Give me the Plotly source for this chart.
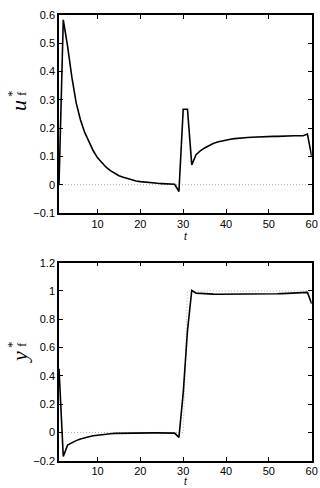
import plotly.graph_objects as go

t = list(range(1, 61))

u_f = [0.0, 0.583, 0.49, 0.38, 0.29, 0.23, 0.185, 0.15, 0.12, 0.095,
       0.077, 0.062, 0.05, 0.04, 0.032, 0.026, 0.021, 0.017, 0.013, 0.011,
       0.009, 0.007, 0.006, 0.005, 0.004, 0.003, 0.002, 0.0015, -0.024, 0.267,
       0.267, 0.07, 0.106, 0.12, 0.13, 0.139, 0.146, 0.151, 0.155, 0.159,
       0.161, 0.163, 0.165, 0.166, 0.167, 0.168, 0.169, 0.17, 0.17, 0.171,
       0.171, 0.171, 0.172, 0.172, 0.172, 0.173, 0.173, 0.173, 0.179, 0.1]

y_f = [0.45, -0.17, -0.09, -0.072, -0.058, -0.047, -0.037, -0.03, -0.024, -0.019,
       -0.015, -0.012, -0.009, -0.007, -0.006, -0.005, -0.004, -0.004, -0.003, -0.003,
       -0.003, -0.003, -0.003, -0.003, -0.003, -0.003, -0.004, -0.005, -0.035, 0.28,
       0.72, 1.005, 0.985, 0.982, 0.98, 0.979, 0.978, 0.977, 0.977, 0.976,
       0.976, 0.975, 0.975, 0.975, 0.975, 0.976, 0.976, 0.977, 0.977, 0.978,
       0.979, 0.98, 0.981, 0.982, 0.983, 0.984, 0.985, 0.986, 0.99, 0.91]

u_ref = [0.0] * 60
y_ref = [0.0] * 30 + [1.0] * 30

x_ticks = [10, 20, 30, 40, 50, 60]
u_ticks = [-0.1, 0, 0.1, 0.2, 0.3, 0.4, 0.5, 0.6]
u_labels = ["\u22120.1", "0", "0.1", "0.2", "0.3", "0.4", "0.5", "0.6"]
y_ticks = [-0.2, 0, 0.2, 0.4, 0.6, 0.8, 1.0, 1.2]
y_labels = ["\u22120.2", "0", "0.2", "0.4", "0.6", "0.8", "1", "1.2"]

W, H = 320, 488
fig = go.Figure()

dot = dict(color="#aaaaaa", width=1, dash="1px,2px")
solid = dict(color="black", width=1.6)

fig.add_trace(go.Scatter(x=t, y=u_ref, mode="lines", line=dot, xaxis="x", yaxis="y"))
fig.add_trace(go.Scatter(x=t, y=u_f, mode="lines", line=solid, xaxis="x", yaxis="y"))
fig.add_trace(go.Scatter(x=t, y=y_ref, mode="lines", line=dot, xaxis="x2", yaxis="y2"))
fig.add_trace(go.Scatter(x=t, y=y_f, mode="lines", line=solid, xaxis="x2", yaxis="y2"))

tickfont = dict(family="Liberation Sans, Arial, sans-serif", size=11, color="black")
common = dict(showline=True, mirror="ticks", linecolor="black", linewidth=1.5,
              ticks="inside", ticklen=4, tickcolor="black", tickwidth=1,
              showgrid=False, zeroline=False, tickfont=tickfont, automargin=False)

xd = [59 / W, 311.7 / W]
fig.update_layout(
    width=W, height=H,
    margin=dict(l=0, r=0, t=0, b=0),
    paper_bgcolor="white", plot_bgcolor="white",
    showlegend=False,
    xaxis=dict(domain=xd, range=[1, 60], tickvals=x_ticks, anchor="y", **common),
    yaxis=dict(domain=[1 - 213 / H, 1 - 15 / H], range=[-0.1, 0.6],
               tickvals=u_ticks, ticktext=u_labels, anchor="x", **common),
    xaxis2=dict(domain=xd, range=[1, 60], tickvals=x_ticks, anchor="y2",
                ticklabelstandoff=-1, **common),
    yaxis2=dict(domain=[1 - 460.7 / H, 1 - 262.7 / H], range=[-0.2, 1.2],
                tickvals=y_ticks, ticktext=y_labels, anchor="x2", **common),
)

ann_font = dict(family="Liberation Sans, Arial, sans-serif", size=10, color="black")
big = dict(family="Liberation Serif, Times New Roman, serif", size=22, color="black")
small = dict(family="Liberation Serif, Times New Roman, serif", size=13, color="black")


def ann(text, x, y, font, angle=0, ya="middle"):
    fig.add_annotation(text=text, x=x / W, y=1 - y / H, xref="paper", yref="paper",
                       showarrow=False, font=font, textangle=angle,
                       xanchor="center", yanchor=ya)


ann("<i>t</i>", 185.5, 237, ann_font)
ann("<i>t</i>", 185.5, 489, ann_font, ya="bottom")
# rotated label u*_f
ann("<i>u</i>", 19, 106, big, -90)
ann("*", 11, 94, small, -90)
ann("f", 21, 94, small, -90)
# rotated label y*_f
ann("<i>y</i>", 19, 357, big, -90)
ann("*", 11, 345, small, -90)
ann("f", 21, 345, small, -90)

fig.write_html("out.html")
